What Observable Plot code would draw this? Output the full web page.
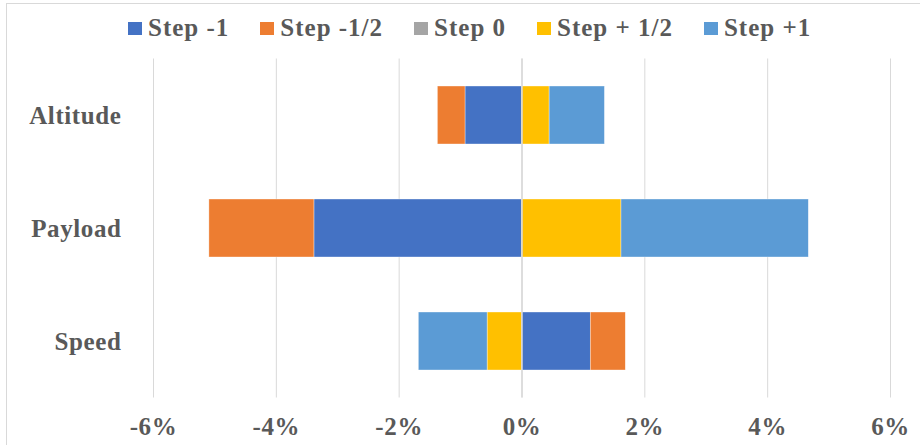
<!DOCTYPE html>
<html>
<head>
<meta charset="utf-8">
<script src="https://cdn.jsdelivr.net/npm/d3@7"></script>
<script src="https://cdn.jsdelivr.net/npm/@observablehq/plot@0.6"></script>
<style>
  html, body { margin: 0; padding: 0; background: #fff; }
  #wrap { position: relative; width: 920px; height: 445px; overflow: hidden; background: #fff; }
  #frame { position: absolute; left: 6px; top: 3px; width: 930px; height: 460px; border: 1px solid #d9d9d9; box-sizing: border-box; }
  #legend { position: absolute; left: 128px; top: 14px; height: 28px; display: flex; align-items: center; gap: 31px;
    font-family: "Liberation Serif", "Times New Roman", serif; font-weight: bold; font-size: 25px; letter-spacing: 1px; color: #595959; white-space: nowrap; }
  .item { display: flex; align-items: center; gap: 6px; }
  .sw { width: 14px; height: 13px; display: inline-block; }
  #chart { position: absolute; left: 0; top: 45px; }
</style>
</head>
<body>
<div id="wrap">
  <div id="frame"></div>
  <div id="legend"></div>
  <div id="chart"></div>
</div>
<script>
const categories = ["Altitude", "Payload", "Speed"];
const steps = ["Step -1", "Step -1/2", "Step 0", "Step + 1/2", "Step +1"];
const colors = ["#4472C4", "#ED7D31", "#A5A5A5", "#FFC000", "#5B9BD5"];
// values in percent, per category (Altitude, Payload, Speed)
const stepMinus1 = [-0.92, -3.38, 1.12];
const stepMinusHalf = [-0.45, -1.71, 0.57];
const step0 = [0, 0, 0];
const stepPlusHalf = [0.45, 1.62, -0.56];
const stepPlus1 = [0.90, 3.05, -1.12];
const xTicks = [-6, -4, -2, 0, 2, 4, 6];

const series = [stepMinus1, stepMinusHalf, step0, stepPlusHalf, stepPlus1];
const data = [];
steps.forEach((s, i) => {
  categories.forEach((c, j) => {
    data.push({ step: s, category: c, value: series[i][j] });
  });
});

// legend
const legend = document.getElementById("legend");
steps.forEach((s, i) => {
  const it = document.createElement("div");
  it.className = "item";
  const sw = document.createElement("span");
  sw.className = "sw";
  sw.style.background = colors[i];
  const t = document.createElement("span");
  t.textContent = s;
  it.appendChild(sw);
  it.appendChild(t);
  legend.appendChild(it);
});

const chart = Plot.plot({
  width: 920,
  height: 400,
  marginTop: 13.5,
  marginBottom: 47.5,
  marginLeft: 153,
  marginRight: 30,
  style: {
    fontFamily: "'Liberation Serif', 'Times New Roman', serif",
    fontWeight: "bold",
    fontSize: "25px",
    letterSpacing: "0.6px",
    color: "#595959",
    background: "transparent"
  },
  x: { domain: [-6, 6], ticks: xTicks, tickFormat: d => `${d}%`, label: null },
  y: { domain: categories, paddingInner: 0.49, paddingOuter: 0.245, label: null },
  color: { domain: steps, range: colors },
  marks: [
    Plot.gridX(xTicks, { stroke: "#d9d9d9", strokeOpacity: 1, strokeWidth: 1 }),
    Plot.barX(data, Plot.stackX({
      y: "category",
      x: "value",
      fill: "step",
      filter: d => d.value !== 0,
      stroke: "#ffffff",
      strokeWidth: 0.6,
      strokeOpacity: 0.6
    })),
    Plot.ruleX([0], { stroke: "#d9d9d9", strokeWidth: 1.5 }),
    Plot.axisX(xTicks, { tickSize: 0, tickPadding: 19, tickFormat: d => `${d}%`, fill: "#595959" }),
    Plot.axisY({ tickSize: 0, tickPadding: 32, fill: "#595959" })
  ]
});
document.getElementById("chart").appendChild(chart);
</script>
</body>
</html>
